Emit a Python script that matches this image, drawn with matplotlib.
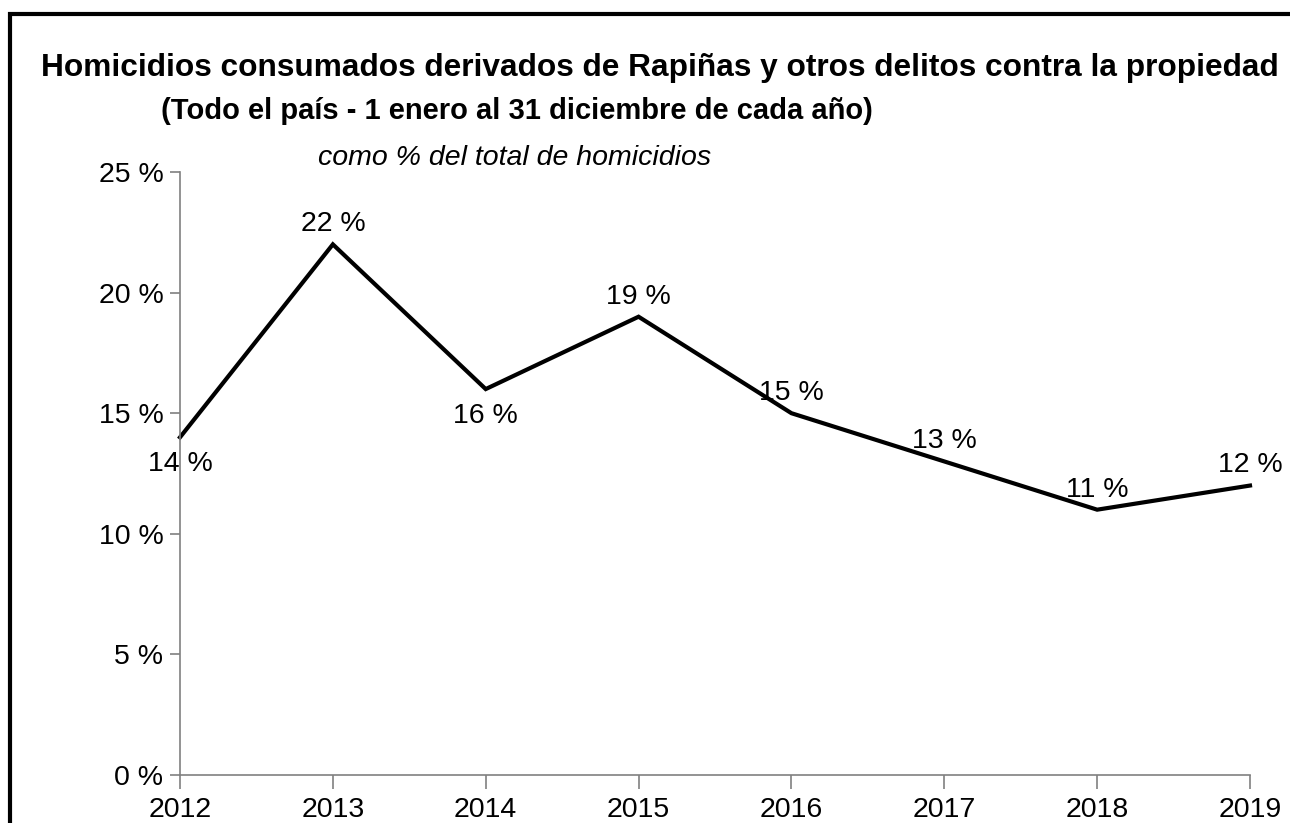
import matplotlib.pyplot as plt
from matplotlib.patches import Rectangle

plt.rcParams['font.family'] = ['Liberation Sans', 'DejaVu Sans']

anios = [2012, 2013, 2014, 2015, 2016, 2017, 2018, 2019]
porcentajes = [14, 22, 16, 19, 15, 13, 11, 12]
# posicion de cada etiqueta: +1 arriba, -1 abajo
lado = [-1, 1, -1, 1, 1, 1, 1, 1]
y_ticks = [0, 5, 10, 15, 20, 25]

fig = plt.figure(figsize=(12.9, 8.23), dpi=100)
ax = fig.add_axes([180/1290, 48/823, 1070/1290, 603/823])

ax.plot(anios, porcentajes, color='black', lw=3, solid_joinstyle='miter', clip_on=False)

for x, y, s in zip(anios, porcentajes, lado):
    dy = 14.5 if s > 0 else -19.5
    ax.annotate(f'{y} %', (x, y), xytext=(0, dy), textcoords='offset points',
                ha='center', va='center', fontsize=20.5)

ax.set_xlim(2012, 2019)
ax.set_ylim(0, 25)
ax.set_xticks(anios)
ax.set_yticks(y_ticks)
ax.set_yticklabels([f'{v} %' for v in y_ticks])
ax.tick_params(axis='both', labelsize=20.5, color='#808080', width=1.2)
ax.tick_params(axis='y', length=7, pad=5)
ax.tick_params(axis='x', length=10, pad=6)
for sp in ['top', 'right']:
    ax.spines[sp].set_visible(False)
for sp in ['left', 'bottom']:
    ax.spines[sp].set_color('#808080')
    ax.spines[sp].set_linewidth(1.2)

fig.text(660/1290, 1 - 68/823, 'Homicidios consumados derivados de Rapiñas y otros delitos contra la propiedad',
         ha='center', va='center', fontsize=22.8, fontweight='bold')
fig.text(517/1290, 1 - 111/823, '(Todo el país - 1 enero al 31 diciembre de cada año)',
         ha='center', va='center', fontsize=21, fontweight='bold')
fig.text(515/1290, 1 - 158/823, 'como % del total de homicidios',
         ha='center', va='center', fontsize=20.5, fontstyle='italic')

# marco
fig.patches.append(Rectangle((10/1290, -0.1), 1.2, 1 - 14/823 + 0.1, transform=fig.transFigure,
                             fill=False, edgecolor='black', lw=3))

fig.savefig('out.png', dpi=100)
